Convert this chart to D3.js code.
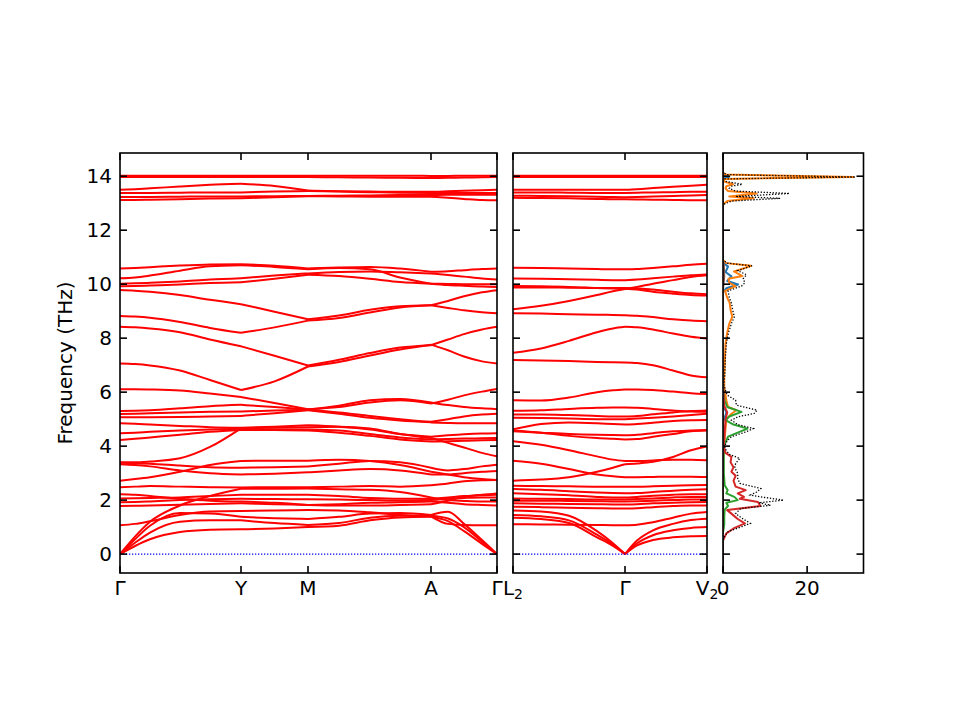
<!DOCTYPE html>
<html><head><meta charset="utf-8">
<script src="https://cdn.jsdelivr.net/npm/d3@7"></script>
<style>body{margin:0;background:#fff} text{font-family:"DejaVu Sans",sans-serif;fill:#000}</style>
</head><body><svg id="c" width="960" height="720"></svg>
<script>
// ---------- data ----------
const freqTicks = [0, 2, 4, 6, 8, 10, 12, 14];
const freqRange = [-0.70, 14.86];

// Panel 1 path: Γ-Y-M-A-Γ
const kTicks1 = [0, 0.121, 0.188, 0.311, 0.377];
const kLabels1 = ["Γ", "Y", "M", "A", "Γ"];
const kSamples1 = [0, .015, .030, .060, .090, .121, .1545, .188, .219, .250, .280, .311, .328, .344, .362, .377];
const bands1 = [
  [14.02,14.02,14.02,14.02,14.02,14.02,14.02,14.02,14.02,14.02,14.02,14.01,14.01,14.02,14.02,14.02],
  [13.97,13.97,13.97,13.97,13.97,13.97,13.97,13.97,13.96,13.95,13.94,13.93,13.94,13.95,13.96,13.97],
  [13.50,13.52,13.55,13.62,13.68,13.72,13.64,13.47,13.44,13.43,13.42,13.42,13.44,13.46,13.48,13.50],
  [13.38,13.38,13.38,13.39,13.40,13.40,13.43,13.45,13.43,13.41,13.39,13.38,13.38,13.38,13.38,13.38],
  [13.23,13.23,13.23,13.24,13.25,13.25,13.26,13.27,13.28,13.29,13.30,13.30,13.31,13.31,13.31,13.31],
  [13.12,13.12,13.13,13.15,13.17,13.18,13.22,13.26,13.25,13.24,13.24,13.24,13.20,13.16,13.12,13.11],
  [10.58,10.60,10.63,10.69,10.73,10.74,10.68,10.58,10.62,10.64,10.58,10.46,10.48,10.52,10.56,10.58],
  [10.22,10.25,10.32,10.50,10.66,10.70,10.64,10.55,10.60,10.55,10.25,10.02,9.97,9.94,9.91,9.90],
  [10.02,10.03,10.05,10.10,10.17,10.22,10.32,10.40,10.45,10.47,10.44,10.40,10.34,10.28,10.21,10.17],
  [9.92,9.93,9.95,9.99,10.04,10.07,10.20,10.35,10.30,10.20,10.08,10.02,10.01,10.00,10.00,10.00],
  [9.78,9.76,9.72,9.60,9.42,9.26,8.98,8.70,8.84,9.05,9.18,9.22,9.38,9.55,9.70,9.78],
  [8.82,8.80,8.76,8.60,8.38,8.20,8.40,8.65,8.75,8.95,9.14,9.22,9.12,9.03,8.96,8.92],
  [8.42,8.40,8.36,8.22,7.95,7.70,7.35,6.99,7.20,7.45,7.65,7.74,7.95,8.15,8.32,8.42],
  [7.06,7.04,6.99,6.80,6.45,6.08,6.40,6.95,7.12,7.36,7.58,7.76,7.55,7.32,7.14,7.06],
  [6.11,6.11,6.10,6.06,5.95,5.82,5.60,5.37,5.45,5.62,5.70,5.58,5.72,5.88,6.02,6.12],
  [5.30,5.31,5.33,5.40,5.48,5.53,5.45,5.36,5.50,5.70,5.75,5.62,5.52,5.45,5.40,5.37],
  [5.19,5.20,5.22,5.25,5.27,5.28,5.32,5.35,5.25,5.12,5.00,4.90,5.00,5.10,5.17,5.20],
  [5.07,5.07,5.07,5.08,5.10,5.12,5.22,5.33,5.20,5.05,4.95,4.88,4.86,4.85,4.85,4.85],
  [4.85,4.83,4.80,4.75,4.70,4.68,4.72,4.77,4.72,4.62,4.45,4.35,4.40,4.44,4.47,4.48],
  [4.48,4.50,4.53,4.58,4.62,4.64,4.62,4.62,4.58,4.45,4.32,4.25,4.26,4.28,4.29,4.30],
  [4.23,4.27,4.32,4.42,4.53,4.60,4.60,4.58,4.50,4.38,4.25,4.17,4.18,4.20,4.22,4.23],
  [3.40,3.40,3.43,3.55,3.97,4.66,4.68,4.70,4.72,4.65,4.45,4.30,4.12,3.95,3.75,3.62],
  [3.33,3.30,3.25,3.10,3.00,2.95,2.98,3.03,3.10,3.15,3.10,2.95,2.95,3.00,3.05,3.08],
  [3.38,3.37,3.35,3.28,3.22,3.20,3.22,3.25,3.35,3.45,3.40,3.20,3.10,3.15,3.25,3.31],
  [2.72,2.78,2.85,3.05,3.30,3.45,3.46,3.46,3.50,3.45,3.30,3.05,2.95,2.85,2.78,2.75],
  [2.48,2.50,2.52,2.50,2.48,2.47,2.48,2.48,2.50,2.52,2.50,2.55,2.62,2.70,2.74,2.75],
  [2.22,2.20,2.15,2.05,1.98,1.95,1.90,1.82,1.80,1.80,1.82,1.85,1.98,2.12,2.20,2.25],
  [2.06,2.07,2.08,2.10,2.15,2.20,2.20,2.20,2.15,2.08,2.05,2.05,2.10,2.15,2.18,2.20],
  [1.92,1.93,1.95,2.00,2.03,2.05,2.04,2.03,2.02,2.00,1.98,2.00,2.05,2.08,2.10,2.10],
  [1.78,1.79,1.80,1.83,1.86,1.88,1.85,1.82,1.85,1.90,1.92,1.95,1.90,1.85,1.82,1.80],
  [1.07,1.12,1.22,1.45,1.58,1.60,1.62,1.63,1.62,1.55,1.45,1.40,1.12,1.08,1.07,1.07],
  [0,0.65,1.20,1.80,2.15,2.42,2.42,2.43,2.40,2.38,2.30,2.10,2.00,1.97,1.95,1.95],
  [0,0.55,1.05,1.52,1.50,1.38,1.33,1.30,1.38,1.50,1.52,1.45,1.57,1.12,0.52,0],
  [0,0.42,0.80,1.20,1.25,1.25,1.15,1.08,1.15,1.35,1.42,1.42,1.32,1.00,0.46,0],
  [0,0.30,0.55,0.82,0.90,0.92,0.95,1.00,1.05,1.25,1.36,1.38,1.22,0.85,0.38,0]
];

// Panel 2 path: L2-Γ-V2
const kTicks2 = [0, 0.112, 0.194];
const kLabels2 = ["L_2", "Γ", "V_2"];
const kSamples2 = [0, .028, .056, .084, .100, .112, .124, .140, .160, .178, .194];
const bands2 = [
  [14.02,14.02,14.02,14.02,14.02,14.02,14.02,14.02,14.02,14.02,14.02],
  [13.97,13.97,13.97,13.97,13.97,13.97,13.97,13.97,13.97,13.97,13.97],
  [13.50,13.50,13.50,13.50,13.50,13.50,13.52,13.56,13.61,13.65,13.68],
  [13.40,13.40,13.39,13.38,13.38,13.38,13.39,13.40,13.41,13.42,13.42],
  [13.28,13.27,13.26,13.24,13.23,13.22,13.23,13.25,13.27,13.29,13.30],
  [13.20,13.19,13.18,13.16,13.15,13.15,13.14,13.13,13.12,13.11,13.11],
  [10.61,10.60,10.58,10.56,10.55,10.55,10.56,10.60,10.66,10.72,10.76],
  [10.21,10.20,10.18,10.16,10.15,10.15,10.17,10.22,10.28,10.33,10.36],
  [9.93,9.92,9.90,9.86,9.84,9.83,9.80,9.72,9.65,9.60,9.58],
  [9.88,9.88,9.87,9.86,9.86,9.86,9.85,9.80,9.72,9.66,9.63],
  [9.07,9.20,9.38,9.60,9.74,9.82,9.90,10.02,10.15,10.27,10.33],
  [8.92,8.91,8.89,8.87,8.86,8.85,8.83,8.78,8.70,8.65,8.63],
  [7.46,7.62,7.90,8.22,8.36,8.42,8.40,8.32,8.17,8.05,7.99],
  [7.19,7.17,7.15,7.12,7.11,7.10,7.08,7.00,6.80,6.62,6.55],
  [5.70,5.69,5.80,6.00,6.07,6.10,6.10,6.08,6.02,5.96,5.93],
  [5.31,5.33,5.38,5.42,5.43,5.43,5.42,5.38,5.32,5.28,5.27],
  [5.17,5.17,5.15,5.12,5.10,5.10,5.12,5.18,5.25,5.30,5.32],
  [5.05,5.04,5.02,5.00,5.00,5.00,5.02,5.05,5.10,5.15,5.20],
  [4.62,4.82,4.88,4.85,4.82,4.80,4.82,4.87,4.93,4.96,4.97],
  [4.55,4.50,4.45,4.42,4.41,4.40,4.42,4.48,4.55,4.58,4.60],
  [4.58,4.50,4.38,4.30,4.27,4.25,4.26,4.35,4.45,4.55,4.58],
  [4.18,4.05,3.85,3.62,3.50,3.45,3.45,3.47,3.50,3.50,3.48],
  [3.46,3.35,3.15,2.95,2.88,2.85,2.85,2.86,2.87,2.87,2.86],
  [2.72,2.76,2.85,3.05,3.20,3.33,3.36,3.42,3.60,3.85,3.99],
  [2.53,2.52,2.51,2.50,2.50,2.50,2.50,2.51,2.53,2.55,2.56],
  [2.41,2.38,2.33,2.28,2.26,2.25,2.26,2.30,2.35,2.38,2.40],
  [2.25,2.22,2.18,2.12,2.10,2.10,2.12,2.16,2.20,2.22,2.22],
  [2.06,2.05,2.04,2.02,2.02,2.02,2.04,2.06,2.10,2.12,2.12],
  [1.98,1.98,1.97,1.96,1.95,1.95,1.96,1.98,2.00,2.02,2.02],
  [1.88,1.87,1.86,1.85,1.84,1.84,1.85,1.88,1.90,1.92,1.93],
  [1.75,1.74,1.72,1.70,1.69,1.69,1.70,1.74,1.78,1.80,1.80],
  [1.11,1.10,1.09,1.08,1.07,1.07,1.09,1.18,1.35,1.50,1.56],
  [1.62,1.58,1.42,0.85,0.40,0,0.50,0.88,1.12,1.26,1.31],
  [1.45,1.40,1.25,0.72,0.35,0,0.40,0.70,0.88,0.97,1.00],
  [1.35,1.30,1.15,0.62,0.30,0,0.32,0.52,0.62,0.66,0.67]
];

// DOS panel: [frequency, DOS] pairs
const dosTicks = [0, 20];
const dosMax = 33.4;
const dosTotal = [[-0.7,0],[0.5,0],[0.64,0.3],[0.83,1.2],[1.02,4.5],[1.14,6.5],[1.33,4.5],[1.5,3.0],[1.69,4.2],[1.81,11.3],[1.9,8.5],[2.0,14.4],[2.12,9.0],[2.19,6.5],[2.3,8.0],[2.43,9.0],[2.62,4.0],[2.8,3.5],[2.99,3.5],[3.2,2.8],[3.36,3.0],[3.54,4.0],[3.7,1.5],[3.9,0.5],[4.0,0.4],[4.2,1.0],[4.35,2.0],[4.53,5.5],[4.65,7.2],[4.8,3.5],[4.96,2.0],[5.09,3.6],[5.21,7.4],[5.33,8.1],[5.52,3.2],[5.7,3.0],[5.89,1.0],[6.1,0.5],[6.3,0.2],[6.6,0.4],[7.0,0.5],[7.4,0.6],[7.8,0.8],[8.2,1.3],[8.54,2.0],[8.79,2.7],[9.04,2.3],[9.3,2.0],[9.5,1.5],[9.75,1.2],[9.93,4.4],[10.05,5.2],[10.2,4.8],[10.35,5.6],[10.5,3.5],[10.68,6.9],[10.78,1.0],[10.9,0],[12.95,0],[13.08,2.0],[13.18,13.6],[13.25,3.0],[13.36,15.8],[13.45,3.0],[13.55,1.5],[13.63,2.0],[13.7,4.6],[13.8,0.8],[13.9,0.5],[13.97,31.5],[14.06,0.8],[14.15,0],[14.86,0]];
const dosOrange = [[-0.7,0],[3.5,0],[3.9,0.2],[4.3,0.4],[4.65,0.6],[5.0,0.8],[5.2,2.0],[5.33,3.2],[5.45,1.2],[5.7,0.8],[5.9,0.6],[6.2,0.3],[6.6,0.3],[7.0,0.4],[7.4,0.5],[7.8,0.6],[8.2,1.0],[8.54,1.5],[8.79,2.2],[9.04,1.8],[9.3,1.6],[9.5,1.0],[9.75,0.5],[9.93,3.0],[10.05,1.5],[10.2,1.3],[10.3,4.6],[10.47,2.6],[10.68,6.7],[10.78,0.8],[10.9,0],[12.95,0],[13.08,1.0],[13.18,7.3],[13.25,1.5],[13.36,8.0],[13.45,1.2],[13.55,0.6],[13.63,0.8],[13.7,2.4],[13.8,0.3],[13.9,0.3],[13.97,31.0],[14.06,0.5],[14.15,0],[14.86,0]];
const dosBlue = [[-0.7,0],[4.9,0],[5.1,0.5],[5.25,0.8],[5.45,0.2],[5.7,0],[9.7,0],[9.85,0.8],[9.99,3.6],[10.12,1.0],[10.29,2.0],[10.45,0.6],[10.65,1.2],[10.8,0],[13.9,0],[13.98,1.5],[14.06,0],[14.86,0]];
const dosGreen = [[-0.7,0],[0.8,0],[1.1,0.3],[1.4,0.3],[1.65,0.4],[1.78,1.2],[1.9,0.8],[2.0,3.5],[2.12,2.7],[2.25,0.8],[2.37,1.1],[2.55,0.4],[3.0,0.2],[3.5,0.2],[4.0,0.2],[4.35,1.2],[4.5,3.5],[4.65,5.8],[4.8,2.5],[4.96,0.6],[5.1,1.5],[5.27,4.4],[5.45,1.0],[5.7,0.4],[6.0,0.1],[6.3,0],[14.86,0]];
const dosRed = [[-0.7,0],[0.5,0],[0.77,0.8],[0.95,2.5],[1.14,5.2],[1.3,3.5],[1.5,2.0],[1.63,1.0],[1.78,8.9],[1.93,8.3],[2.05,4.0],[2.12,5.0],[2.25,3.5],[2.37,5.4],[2.5,3.0],[2.72,2.5],[2.9,3.0],[3.05,2.0],[3.22,2.5],[3.4,1.8],[3.6,2.0],[3.75,0.6],[4.0,0.2],[4.5,0.4],[5.0,0.6],[5.25,1.0],[5.5,0.3],[6.0,0.1],[6.3,0],[14.86,0]];
const dosBrown = [[-0.7,0],[9.8,0],[10.3,0.3],[10.7,0.2],[10.9,0],[14.86,0]];

// ---------- drawing ----------
const svg = d3.select("#c");
svg.append("rect").attr("width",960).attr("height",720).attr("fill","#fff");
const Y0 = 153, Y1 = 573;
const y = d3.scaleLinear().domain(freqRange).range([Y1, Y0]);
const TL = 7, FS = 20;

const p1 = {x0:120, x1:497};
const p2 = {x0:513, x1:707};
const p3 = {x0:723, x1:863.5};

function clip(id, p){
  svg.append("clipPath").attr("id", id).append("rect")
    .attr("x", p.x0).attr("y", Y0).attr("width", p.x1 - p.x0).attr("height", Y1 - Y0);
}

function label(sel, txt, x, yy, anchor){
  const t = sel.append("text").attr("x", x).attr("y", yy).attr("text-anchor", anchor)
    .attr("font-size", FS);
  const parts = txt.split("_");
  t.append("tspan").text(parts[0]);
  if (parts.length > 1) t.append("tspan").attr("font-size", 14).attr("dy", 4).text(parts[1]);
  return t;
}

function frame(p, xt, xs, yLabels){
  const g = svg.append("g");
  g.append("rect").attr("x", p.x0).attr("y", Y0).attr("width", p.x1 - p.x0).attr("height", Y1 - Y0)
    .attr("fill", "none").attr("stroke", "#000").attr("stroke-width", 1.6);
  freqTicks.forEach(f => {
    g.append("line").attr("x1", p.x0).attr("x2", p.x0 + TL).attr("y1", y(f)).attr("y2", y(f))
      .attr("stroke", "#000").attr("stroke-width", 1.6);
    g.append("line").attr("x1", p.x1 - TL).attr("x2", p.x1).attr("y1", y(f)).attr("y2", y(f))
      .attr("stroke", "#000").attr("stroke-width", 1.6);
    if (yLabels) g.append("text").attr("x", p.x0 - 8).attr("y", y(f)).attr("dy", "0.36em")
      .attr("text-anchor", "end").attr("font-size", FS).text(f);
  });
  xt.forEach(v => {
    const xx = xs(v);
    g.append("line").attr("x1", xx).attr("x2", xx).attr("y1", Y0).attr("y2", Y0 + TL)
      .attr("stroke", "#000").attr("stroke-width", 1.6);
    g.append("line").attr("x1", xx).attr("x2", xx).attr("y1", Y1).attr("y2", Y1 - TL)
      .attr("stroke", "#000").attr("stroke-width", 1.6);
  });
}

function bandPanel(p, id, kTicks, kLabels, kSamples, bands){
  const x = d3.scaleLinear().domain([kTicks[0], kTicks[kTicks.length - 1]]).range([p.x0, p.x1]);
  clip(id, p);
  const g = svg.append("g").attr("clip-path", `url(#${id})`);
  // split every band into the path segments between high-symmetry points
  const cut = kTicks.map(k => kSamples.indexOf(k));
  const segs = [];
  bands.forEach(b => {
    for (let s = 0; s < cut.length - 1; s++) {
      const pts = [];
      for (let i = cut[s]; i <= cut[s + 1]; i++) pts.push([kSamples[i], b[i]]);
      segs.push(pts);
    }
  });
  const line = d3.line().x(d => x(d[0])).y(d => y(d[1])).curve(d3.curveMonotoneX);
  g.selectAll("path.band").data(segs).join("path").attr("class", "band")
    .attr("d", line).attr("fill", "none").attr("stroke", "#ff0000").attr("stroke-width", 2);
  g.append("line").attr("x1", p.x0).attr("x2", p.x1).attr("y1", y(0)).attr("y2", y(0))
    .attr("stroke", "#0000ff").attr("stroke-width", 1.3).attr("stroke-dasharray", "1.3,1.7");
  kTicks.forEach((k, i) => label(svg, kLabels[i], x(k), 595, "middle"));
  return x;
}

const x1s = bandPanel(p1, "c1", kTicks1, kLabels1, kSamples1, bands1);
frame(p1, kTicks1, x1s, true);
const x2s = bandPanel(p2, "c2", kTicks2, kLabels2, kSamples2, bands2);
frame(p2, kTicks2, x2s, false);

// DOS panel
const xd = d3.scaleLinear().domain([0, dosMax]).range([p3.x0, p3.x1]);
clip("c3", p3);
const gd = svg.append("g").attr("clip-path", "url(#c3)");
const dline = d3.line().x(d => xd(d[1])).y(d => y(d[0]));
const series = [
  {d: dosBlue, c: "#1f77b4"},
  {d: dosOrange, c: "#ff7f0e"},
  {d: dosGreen, c: "#2ca02c"},
  {d: dosRed, c: "#d62728"},
  {d: dosBrown, c: "#8c564b"}
];
series.forEach(s => gd.append("path").attr("d", dline(s.d)).attr("fill", "none")
  .attr("stroke", s.c).attr("stroke-width", 2).attr("stroke-linejoin", "round"));
gd.append("path").attr("d", dline(dosTotal)).attr("fill", "none").attr("stroke", "#000")
  .attr("stroke-width", 1.3).attr("stroke-dasharray", "1.3,1.7");
frame(p3, dosTicks, xd, false);
dosTicks.forEach(v => label(svg, String(v), xd(v), 595, "middle"));

// y axis title
svg.append("text").attr("transform", `translate(72,${(Y0 + Y1) / 2}) rotate(-90)`)
  .attr("text-anchor", "middle").attr("font-size", FS).text("Frequency (THz)");
</script></body></html>
